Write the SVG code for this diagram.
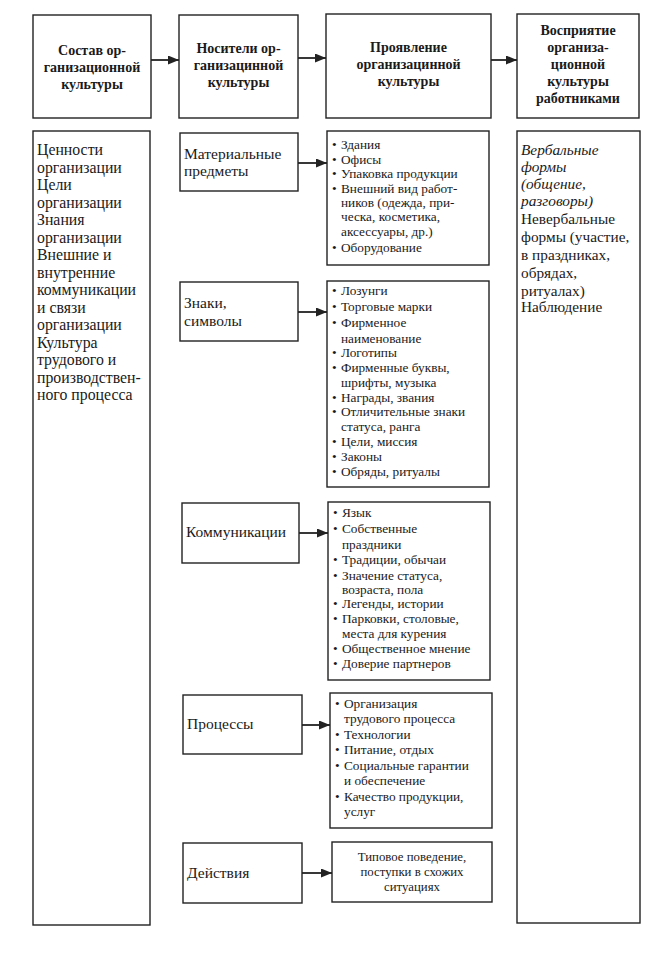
<svg xmlns="http://www.w3.org/2000/svg" width="670" height="954" viewBox="0 0 670 954">
<defs>
<marker id="ah" viewBox="0 0 11 9" refX="11" refY="4.5" markerWidth="11" markerHeight="9" markerUnits="userSpaceOnUse" orient="auto">
<path d="M0,0 L11,4.5 L0,9 z" fill="#222"/>
</marker>
<style>
.box{fill:#fff;stroke:#222;stroke-width:1.4}
.hd{font-family:"Liberation Serif","Times New Roman",serif;font-size:14px;font-weight:bold;fill:#1a1a1a;text-anchor:middle}
.big{font-family:"Liberation Serif","Times New Roman",serif;font-size:15.8px;fill:#1a1a1a}
.rt{font-family:"Liberation Serif","Times New Roman",serif;font-size:15.3px;fill:#1a1a1a}
.mid{font-family:"Liberation Serif","Times New Roman",serif;font-size:15.5px;fill:#1a1a1a}
.li{font-family:"Liberation Serif","Times New Roman",serif;font-size:13.3px;fill:#1a1a1a}
.ty{font-family:"Liberation Serif","Times New Roman",serif;font-size:12.8px;fill:#1a1a1a;text-anchor:middle}
.it{font-style:italic}
.conn line{stroke:#222;stroke-width:1.8;marker-end:url(#ah)}
</style>
</defs>
<rect width="670" height="954" fill="#fff"/>

<g id="h1">
<rect class="box" x="33" y="15" width="118" height="103"/>
<text class="hd" x="92" y="55">Состав ор-</text>
<text class="hd" x="92" y="72">ганизационной</text>
<text class="hd" x="92" y="89">культуры</text>
</g>
<g id="h2">
<rect class="box" x="179" y="15" width="119" height="103"/>
<text class="hd" x="238.5" y="53">Носители ор-</text>
<text class="hd" x="238.5" y="70">ганизацинной</text>
<text class="hd" x="238.5" y="87">культуры</text>
</g>
<g id="h3">
<rect class="box" x="326" y="14" width="165" height="104"/>
<text class="hd" x="408.5" y="52">Проявление</text>
<text class="hd" x="408.5" y="69">организацинной</text>
<text class="hd" x="408.5" y="86">культуры</text>
</g>
<g id="h4">
<rect class="box" x="517" y="14" width="122" height="104"/>
<text class="hd" x="578" y="35">Восприятие</text>
<text class="hd" x="578" y="52">организа-</text>
<text class="hd" x="578" y="69">ционной</text>
<text class="hd" x="578" y="86">культуры</text>
<text class="hd" x="578" y="103">работниками</text>
</g>

<g id="left">
<rect class="box" x="33" y="131" width="117" height="794"/>
<text class="big" x="37" y="155">Ценности</text>
<text class="big" x="37" y="172.5">организации</text>
<text class="big" x="37" y="190">Цели</text>
<text class="big" x="37" y="207.5">организации</text>
<text class="big" x="37" y="225">Знания</text>
<text class="big" x="37" y="242.5">организации</text>
<text class="big" x="37" y="260">Внешние и</text>
<text class="big" x="37" y="277.5">внутренние</text>
<text class="big" x="37" y="295">коммуникации</text>
<text class="big" x="37" y="312.5">и связи</text>
<text class="big" x="37" y="330">организации</text>
<text class="big" x="37" y="347.5">Культура</text>
<text class="big" x="37" y="365">трудового и</text>
<text class="big" x="37" y="382.5">производствен-</text>
<text class="big" x="37" y="400">ного процесса</text>
</g>

<g id="right">
<rect class="box" x="517" y="131" width="123" height="792"/>
<text class="rt it" x="521" y="155">Вербальные</text>
<text class="rt it" x="521" y="172">формы</text>
<text class="rt it" x="521" y="189">(общение,</text>
<text class="rt it" x="521" y="206">разговоры)</text>
<text class="rt" x="521" y="224">Невербальные</text>
<text class="rt" x="521" y="242">формы (участие,</text>
<text class="rt" x="521" y="260">в праздниках,</text>
<text class="rt" x="521" y="278">обрядах,</text>
<text class="rt" x="521" y="296">ритуалах)</text>
<text class="rt" x="521" y="312">Наблюдение</text>
</g>

<g id="m1">
<rect class="box" x="180" y="133" width="118" height="58"/>
<text class="mid" x="184" y="159">Материальные</text>
<text class="mid" x="184" y="176">предметы</text>
</g>
<g id="l1">
<rect class="box" x="327" y="131" width="162" height="134"/>
<text class="li" x="332" y="149">•</text><text class="li" x="341" y="149">Здания</text>
<text class="li" x="332" y="164">•</text><text class="li" x="341" y="164">Офисы</text>
<text class="li" x="332" y="178">•</text><text class="li" x="341" y="178">Упаковка продукции</text>
<text class="li" x="332" y="193">•</text><text class="li" x="341" y="193">Внешний вид работ-</text>
<text class="li" x="341" y="207">ников (одежда, при-</text>
<text class="li" x="341" y="221">ческа, косметика,</text>
<text class="li" x="341" y="236">аксессуары, др.)</text>
<text class="li" x="332" y="252">•</text><text class="li" x="341" y="252">Оборудование</text>
</g>

<g id="m2">
<rect class="box" x="180" y="282" width="118" height="59"/>
<text class="mid" x="184" y="308">Знаки,</text>
<text class="mid" x="184" y="326">символы</text>
</g>
<g id="l2">
<rect class="box" x="327" y="281" width="162" height="206"/>
<text class="li" x="332" y="295">•</text><text class="li" x="341" y="295">Лозунги</text>
<text class="li" x="332" y="311">•</text><text class="li" x="341" y="311">Торговые марки</text>
<text class="li" x="332" y="327">•</text><text class="li" x="341" y="327">Фирменное</text>
<text class="li" x="341" y="343">наименование</text>
<text class="li" x="332" y="357">•</text><text class="li" x="341" y="357">Логотипы</text>
<text class="li" x="332" y="372">•</text><text class="li" x="341" y="372">Фирменные буквы,</text>
<text class="li" x="341" y="387">шрифты, музыка</text>
<text class="li" x="332" y="402">•</text><text class="li" x="341" y="402">Награды, звания</text>
<text class="li" x="332" y="416">•</text><text class="li" x="341" y="416">Отличительные знаки</text>
<text class="li" x="341" y="431">статуса, ранга</text>
<text class="li" x="332" y="446">•</text><text class="li" x="341" y="446">Цели, миссия</text>
<text class="li" x="332" y="461">•</text><text class="li" x="341" y="461">Законы</text>
<text class="li" x="332" y="476">•</text><text class="li" x="341" y="476">Обряды, ритуалы</text>
</g>

<g id="m3">
<rect class="box" x="182" y="503" width="117" height="60"/>
<text class="mid" x="186" y="537">Коммуникации</text>
</g>
<g id="l3">
<rect class="box" x="328" y="502" width="162" height="178"/>
<text class="li" x="333" y="517">•</text><text class="li" x="342" y="517">Язык</text>
<text class="li" x="333" y="533">•</text><text class="li" x="342" y="533">Собственные</text>
<text class="li" x="342" y="549">праздники</text>
<text class="li" x="333" y="564">•</text><text class="li" x="342" y="564">Традиции, обычаи</text>
<text class="li" x="333" y="580">•</text><text class="li" x="342" y="580">Значение статуса,</text>
<text class="li" x="342" y="594">возраста, пола</text>
<text class="li" x="333" y="608">•</text><text class="li" x="342" y="608">Легенды, истории</text>
<text class="li" x="333" y="623">•</text><text class="li" x="342" y="623">Парковки, столовые,</text>
<text class="li" x="342" y="638">места для курения</text>
<text class="li" x="333" y="653">•</text><text class="li" x="342" y="653">Общественное мнение</text>
<text class="li" x="333" y="668">•</text><text class="li" x="342" y="668">Доверие партнеров</text>
</g>

<g id="m4">
<rect class="box" x="183" y="695" width="119" height="59"/>
<text class="mid" x="187" y="729">Процессы</text>
</g>
<g id="l4">
<rect class="box" x="330" y="693" width="162" height="135"/>
<text class="li" x="335" y="708">•</text><text class="li" x="344" y="708">Организация</text>
<text class="li" x="344" y="723">трудового процесса</text>
<text class="li" x="335" y="739">•</text><text class="li" x="344" y="739">Технологии</text>
<text class="li" x="335" y="754">•</text><text class="li" x="344" y="754">Питание, отдых</text>
<text class="li" x="335" y="770">•</text><text class="li" x="344" y="770">Социальные гарантии</text>
<text class="li" x="344" y="785">и обеспечение</text>
<text class="li" x="335" y="801">•</text><text class="li" x="344" y="801">Качество продукции,</text>
<text class="li" x="344" y="816">услуг</text>
</g>

<g id="m5">
<rect class="box" x="183" y="843" width="119" height="60"/>
<text class="mid" x="187" y="878">Действия</text>
</g>
<g id="l5">
<rect class="box" x="332" y="842" width="160" height="60"/>
<text class="ty" x="412" y="861">Типовое поведение,</text>
<text class="ty" x="412" y="876">поступки в схожих</text>
<text class="ty" x="412" y="891">ситуациях</text>
</g>

<g id="connectors" class="conn">
<line x1="151" y1="60" x2="179" y2="60"/>
<line x1="298" y1="58" x2="326" y2="58"/>
<line x1="491" y1="60" x2="517" y2="60"/>
<line x1="298" y1="163" x2="327" y2="163"/>
<line x1="298" y1="312" x2="327" y2="312"/>
<line x1="299" y1="533" x2="328" y2="533"/>
<line x1="302" y1="725" x2="330" y2="725"/>
<line x1="302" y1="873" x2="332" y2="873"/>
</g>
</svg>
